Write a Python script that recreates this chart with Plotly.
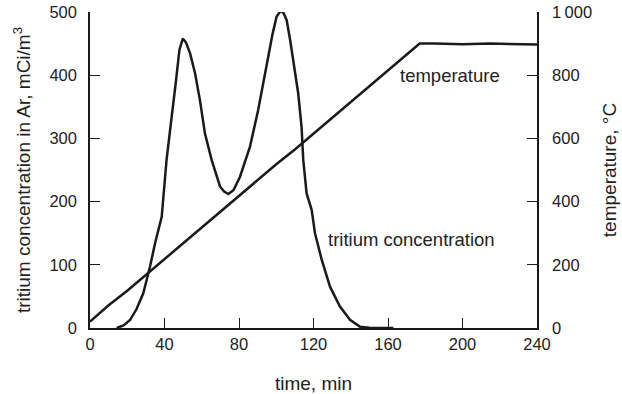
import plotly.graph_objects as go

# tritium concentration (mCi/m3) vs time (min)
trit_t = [14.3, 18, 21.5, 25, 28.6, 32.2, 35, 38.5, 41.1, 43.8, 46.2, 48, 49.8, 51.5, 53.7, 56.4, 59,
          61.7, 65.3, 69.8, 72, 74.3, 77, 80.5, 83, 85.9, 90.3, 93, 95.7, 98, 100.2, 102.4, 104, 105.6,
          107.5, 109.2, 111.8, 113.6, 114.5, 116.3, 119, 120.8, 124.4, 128.9, 134.2, 139.6, 145, 150,
          154, 162.9]
trit_c = [0, 4, 12.6, 30, 55, 97, 135, 176, 266, 329, 392, 440, 458, 452, 435, 403, 361,
          308, 266, 224, 216, 212, 218, 239, 262, 287, 345, 387, 435, 465, 493, 502, 498, 487,
          455, 424, 371, 318, 266, 213, 187, 150, 108, 65, 34, 13, 2, 0.5,
          0, 0]

# temperature (°C) vs time (min)
temp_t = [0, 10, 20, 30, 40, 50, 60, 70, 80, 90, 100, 110, 120, 130, 140, 150, 160, 170, 177,
          185, 200, 215, 230, 240]
temp_T = [20, 72, 118, 168, 220, 268, 318, 368, 418, 468, 518, 565, 615, 665, 715, 765, 815, 865, 900,
          900, 898, 900, 899, 897]

x_ticks = [0, 40, 80, 120, 160, 200, 240]
left_ticks = [0, 100, 200, 300, 400, 500]
right_ticks = [0, 200, 400, 600, 800, 1000]
right_ticktext = ["0", "200", "400", "600", "800", "1\u2009000"]

ink = "#1a1a1a"
fam = "Liberation Sans, Arial, sans-serif"
font = dict(family=fam, size=16, color="#222")
tick_font = dict(family=fam, size=16.5, color="#222")
ann_font = dict(family=fam, size=18.5, color="#222")

fig = go.Figure()
fig.add_trace(go.Scatter(x=trit_t, y=trit_c, mode="lines", line=dict(color=ink, width=2.5),
                         showlegend=False, hoverinfo="skip"))
fig.add_trace(go.Scatter(x=temp_t, y=temp_T, mode="lines", line=dict(color=ink, width=2.5),
                         yaxis="y2", showlegend=False, hoverinfo="skip"))

axis_common = dict(ticks="inside", ticklen=10, tickwidth=1.3, tickcolor=ink, showline=True,
                   linecolor=ink, linewidth=1.5, showgrid=False, zeroline=False,
                   ticklabeloverflow="allow", automargin=False, tickfont=tick_font)

fig.update_layout(
    width=622, height=394,
    margin=dict(l=90, r=85, t=12, b=66),
    paper_bgcolor="white", plot_bgcolor="white",
    font=font,
    xaxis=dict(range=[0, 240], tickvals=x_ticks, ticklabelstandoff=0,
               title=dict(text="time, min", standoff=26), **axis_common),
    yaxis=dict(range=[0, 500], tickvals=left_ticks, ticklabelstandoff=8,
               title=dict(text="tritium concentration in Ar, mCi/m<sup>3</sup>", standoff=14),
               **axis_common),
    yaxis2=dict(range=[0, 1000], tickvals=right_ticks, ticktext=right_ticktext, overlaying="y",
                side="right", ticklabelstandoff=10,
                title=dict(text="temperature, \u00b0C", standoff=12),
                **axis_common),
    annotations=[
        dict(x=165.5, y=800, xref="x", yref="y2", text="temperature", showarrow=False,
             xanchor="left", yanchor="middle", font=ann_font),
        dict(x=126.8, y=140, xref="x", yref="y", text="tritium concentration", showarrow=False,
             xanchor="left", yanchor="middle", font=ann_font),
    ],
)

fig.write_html("out.html")
